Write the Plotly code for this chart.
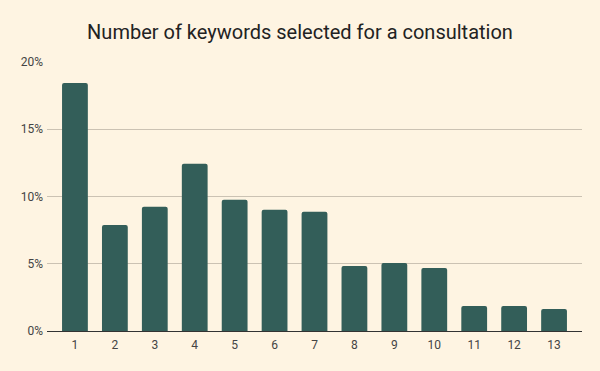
import plotly.graph_objects as go

categories = ["1", "2", "3", "4", "5", "6", "7", "8", "9", "10", "11", "12", "13"]
values = [18.44, 7.89, 9.23, 12.43, 9.75, 9.01, 8.86, 4.84, 5.06, 4.69, 1.86, 1.86, 1.64]
y_ticks = [0, 5, 10, 15, 20]
y_tick_labels = ["0%", "5%", "10%", "15%", "20%"]
title = "Number of keywords selected for a consultation"

bg = "#FEF4E2"
fig = go.Figure(go.Bar(
    x=categories, y=values,
    marker=dict(color="#335E59", cornerradius=2, line=dict(width=0)),
    hoverinfo="x+y",
))
fig.update_layout(
    width=600, height=371,
    paper_bgcolor=bg, plot_bgcolor=bg,
    margin=dict(l=47, r=18, t=62, b=40),
    bargap=0.354,
    showlegend=False,
    font=dict(family="Roboto", size=12, color="#444444"),
    title=dict(text=title, x=0.5, xanchor="center", y=0.915, yanchor="middle",
               font=dict(family="Roboto", size=20, color="#222222")),
    xaxis=dict(type="category", range=[-0.70, 12.70], showgrid=False,
               showline=True, linecolor="#333333", linewidth=1,
               ticks="", ticklabelstandoff=3,
               tickfont=dict(size=12, color="#444444")),
    yaxis=dict(range=[0, 20], tickvals=y_ticks, ticktext=y_tick_labels,
               showgrid=True, gridcolor="#CBC2B3", gridwidth=1, zeroline=False,
               showline=False, ticks="", ticklabelstandoff=3,
               tickfont=dict(size=12, color="#444444")),
)
post = ("document.body.style.margin='0';document.body.style.padding='0';"
        "document.body.style.overflow='hidden';"
        "document.body.style.background='%s';" % bg)
fig.write_html("out.html", post_script=post, config={"displayModeBar": False})
